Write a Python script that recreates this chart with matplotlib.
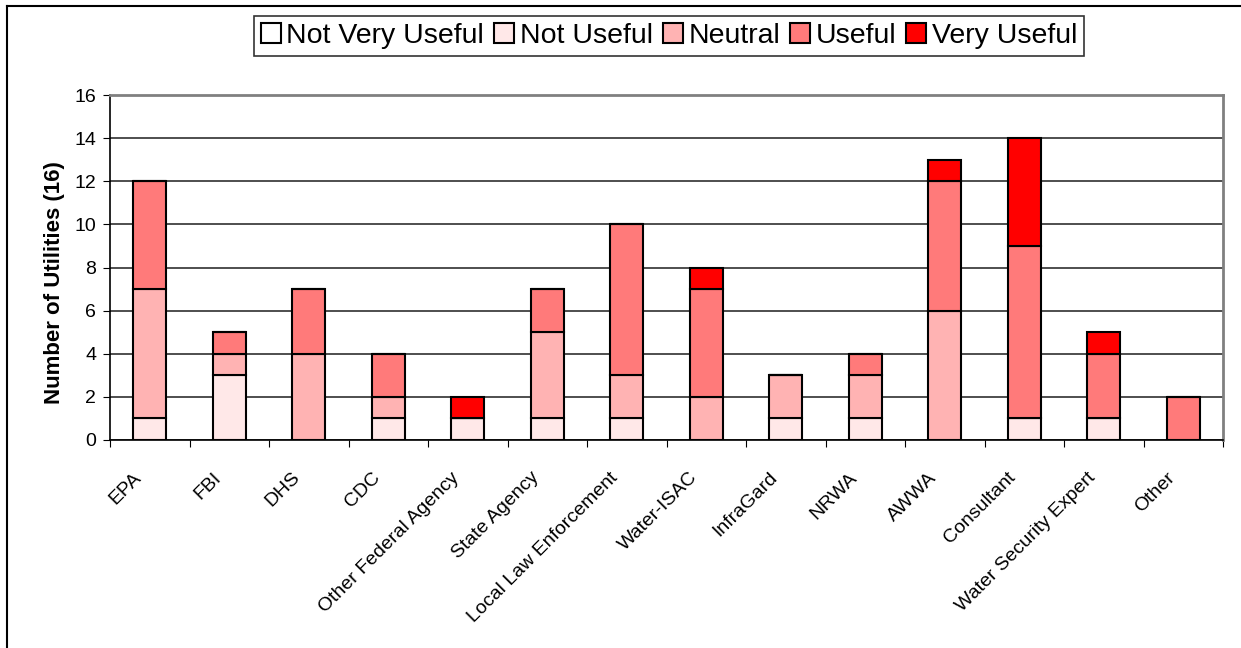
import matplotlib
matplotlib.use("Agg")
import matplotlib.pyplot as plt
import numpy as np
from matplotlib.lines import Line2D

categories = ["EPA", "FBI", "DHS", "CDC", "Other Federal Agency", "State Agency",
              "Local Law Enforcement", "Water-ISAC", "InfraGard", "NRWA", "AWWA",
              "Consultant", "Water Security Expert", "Other"]
not_very_useful = [0, 0, 0, 0, 0, 0, 0, 0, 0, 0, 0, 0, 0, 0]
not_useful      = [1, 3, 0, 1, 1, 1, 1, 0, 1, 1, 0, 1, 1, 0]
neutral         = [6, 1, 4, 1, 0, 4, 2, 2, 2, 2, 6, 0, 0, 0]
useful          = [5, 1, 3, 2, 0, 2, 7, 5, 0, 1, 6, 8, 3, 2]
very_useful     = [0, 0, 0, 0, 1, 0, 0, 1, 0, 0, 1, 5, 1, 0]
series_names = ["Not Very Useful", "Not Useful", "Neutral", "Useful", "Very Useful"]
y_ticks = [0, 2, 4, 6, 8, 10, 12, 14, 16]

colors = ["#FFFFFF", "#FFE8E8", "#FFB3B3", "#FF7A7A", "#FF0000"]

plt.rcParams['font.family'] = ['Liberation Sans', 'DejaVu Sans']

fig = plt.figure(figsize=(12.41, 6.48), dpi=100)
ax = fig.add_axes([110/1241, 1-440/648, (1223-110)/1241, (440-95)/648])

x = np.arange(len(categories))
bottom = np.zeros(len(categories))
handles = []
for name, vals, c in zip(series_names, [not_very_useful, not_useful, neutral, useful, very_useful], colors):
    vals = np.array(vals, dtype=float)
    bars = ax.bar(x, vals, width=0.42, bottom=bottom, color=c, edgecolor="black",
                  linewidth=1.5, label=name, zorder=3)
    bottom += vals
    handles.append(bars)

ax.set_xlim(-0.5, len(categories) - 0.5)
ax.set_ylim(0, 16)
ax.set_yticks(y_ticks)
ax.set_yticklabels([str(t) for t in y_ticks], fontsize=14)
ax.yaxis.grid(True, color="#303030", linewidth=1.2, zorder=0)
ax.set_axisbelow(True)

# ticks at category boundaries, labels drawn as rotated annotations at category centres
ax.set_xticks(np.arange(len(categories) + 1) - 0.5)
ax.set_xticklabels([])
for xi, cat in zip(x, categories):
    ax.annotate(cat, xy=(xi, 0), xycoords=("data", "axes fraction"),
                xytext=(-12.2, -20.9), textcoords="offset points",
                rotation=45, ha="right", va="top", rotation_mode="anchor",
                fontsize=14, annotation_clip=False)
ax.tick_params(axis="x", which="major", length=5, direction="out", color="black")
ax.tick_params(axis="y", length=5, direction="out", color="black", pad=5)

for s in ["top", "right"]:
    ax.spines[s].set_color("#808080")
    ax.spines[s].set_linewidth(2)
for s in ["left", "bottom"]:
    ax.spines[s].set_color("black")
    ax.spines[s].set_linewidth(1.2)

ax.set_ylabel("Number of Utilities (16)", fontsize=16, fontweight="bold", labelpad=7,
              y=0.455)

leg = fig.legend(handles=handles, labels=series_names, loc="center",
                 bbox_to_anchor=(669/1241, 1-36/648), ncol=5, fontsize=20.5,
                 frameon=True, fancybox=False, edgecolor="black",
                 handlelength=0.7, handleheight=0.7, handletextpad=0.2,
                 columnspacing=0.35, borderpad=0.25, borderaxespad=0)
leg.get_frame().set_linewidth(1.2)

# figure border (top and left)
fig.add_artist(Line2D([7/1241, 1], [1-6/648, 1-6/648], color="black", linewidth=1.5,
                      transform=fig.transFigure))
fig.add_artist(Line2D([7/1241, 7/1241], [0, 1-6/648], color="black", linewidth=1.5,
                      transform=fig.transFigure))

fig.savefig("out.png", dpi=100)
